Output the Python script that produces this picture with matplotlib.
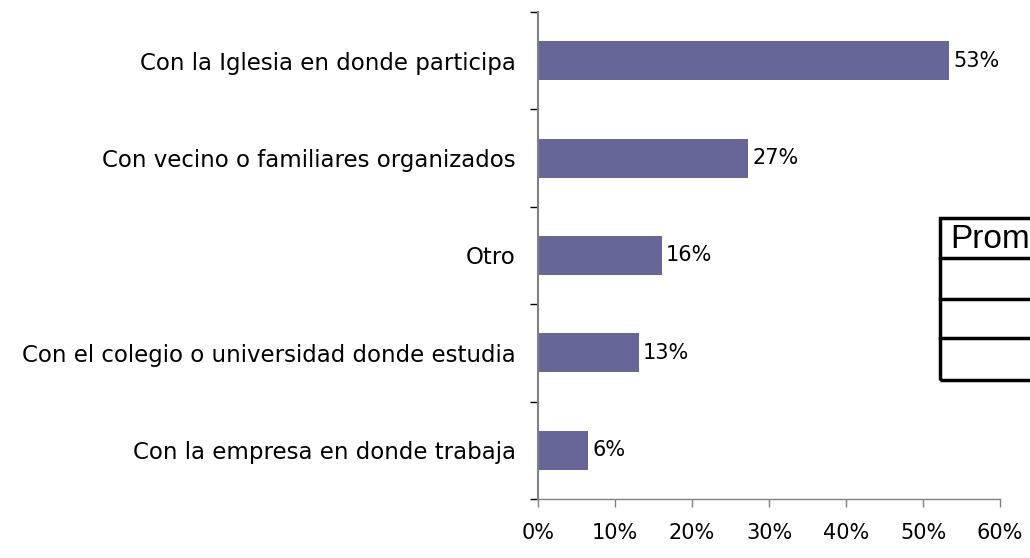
import matplotlib
matplotlib.use('Agg')
import matplotlib.pyplot as plt
from matplotlib.patches import Rectangle
from matplotlib.lines import Line2D
from matplotlib.ticker import FuncFormatter, MultipleLocator

# data (bottom to top)
categories = ['Con la empresa en donde trabaja',
              'Con el colegio o universidad donde estudia',
              'Otro',
              'Con vecino o familiares organizados',
              'Con la Iglesia en donde participa']
values = [6.5, 13.1, 16.1, 27.3, 53.4]
value_labels = ['6%', '13%', '16%', '27%', '53%']
table_header = 'Promedio'

FONT = 'DejaVu Sans'
FS = 15

W, H = 1030, 558
fig = plt.figure(figsize=(W / 100, H / 100), dpi=100)
fig.patch.set_facecolor('white')

# axes placed in pixel terms of the reference
ax = fig.add_axes([538 / W, 1 - 499 / H, (1000 - 538) / W, (499 - 12) / H])

pos = list(range(len(categories)))
ax.barh(pos, values, height=0.4, color='#666699', zorder=2)

for p, v, lab in zip(pos, values, value_labels):
    ax.annotate(lab, (v, p), xytext=(3, 0), textcoords='offset points',
                va='center', ha='left', fontsize=FS, family=FONT)

ax.set_xlim(0, 60)
ax.set_ylim(-0.5, len(categories) - 0.5)
ax.xaxis.set_major_locator(MultipleLocator(10))
ax.xaxis.set_major_formatter(FuncFormatter(lambda x, _: '%d%%' % x))

# category labels centred on bars, tick marks on band boundaries
ax.set_yticks([p - 0.5 for p in pos] + [len(pos) - 0.5])
ax.set_yticklabels([])
ax.tick_params(axis='y', length=6, width=1, color='black', direction='out')
ax.set_yticks(pos, minor=True)
ax.set_yticklabels(categories, minor=True, fontsize=16.5, family=FONT)
ax.tick_params(axis='y', which='minor', length=0, pad=16)
ax.tick_params(axis='x', length=6, width=1, color='#808080', direction='out',
               labelsize=FS, pad=11)
for lab in ax.get_xticklabels():
    lab.set_family(FONT)

for s in ['top', 'right']:
    ax.spines[s].set_visible(False)
ax.spines['left'].set_color('#808080')
ax.spines['left'].set_linewidth(1.5)
ax.spines['bottom'].set_color('#808080')
ax.spines['bottom'].set_linewidth(1)

# cut-off table box on the right
lw = 2.5
x0 = 940 / W
rows_y = [218, 258, 299, 338, 380]
tf = fig.transFigure
fig.patches.append(Rectangle((x0, 1 - 380 / H), 0.2, (380 - 218) / H,
                             transform=tf, fill=False, edgecolor='black',
                             linewidth=lw))
for yy in rows_y[1:-1]:
    fig.lines.append(Line2D([x0, 1.1], [1 - yy / H, 1 - yy / H],
                            transform=tf, color='black', linewidth=lw))
fig.text(x0 + 10 / W, 1 - 239 / H, table_header, fontsize=24,
         family='Liberation Sans', va='center', ha='left')

fig.savefig('out.png', dpi=100)
